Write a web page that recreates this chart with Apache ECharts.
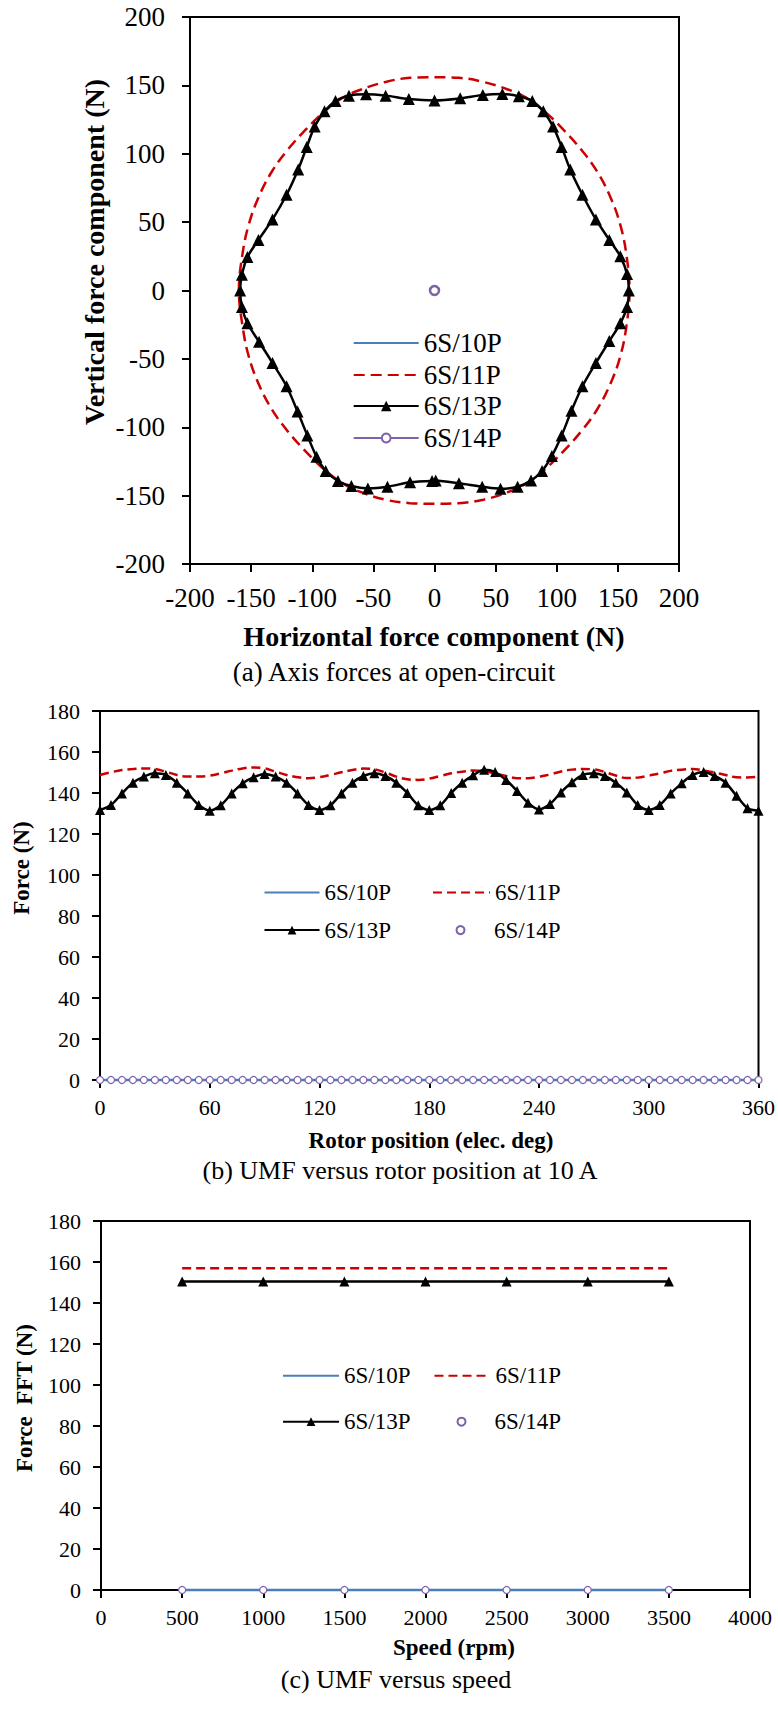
<!DOCTYPE html>
<html><head><meta charset="utf-8">
<script src="https://cdn.jsdelivr.net/npm/echarts@6/dist/echarts.min.js"></script>
<style>
html,body{margin:0;padding:0;background:#fff;}
.c{position:absolute;left:0;top:0;width:778px;height:1710px;}
</style></head><body>
<div id="ca" class="c"></div><div id="cb" class="c"></div><div id="cc" class="c"></div>
<script>
// ================= DATA =================
const seriesNames = ['6S/10P', '6S/11P', '6S/13P', '6S/14P'];

// (a) Axis forces at open-circuit: [horizontal, vertical] (N)
const aTicks = [-200, -150, -100, -50, 0, 50, 100, 150, 200];
const a10P = [[0, 0]];
const a11P = [[0,156],[20,155.5],[40,152.5],[60,147],[75,141],[90,131],[105,118],[120,103],[133,87],[144,68],[152,48],[157,26],[159.5,0],[157,-26],[152,-48],[144,-68],[133,-87],[120,-103],[105,-118],[90,-131],[75,-141],[60,-147.5],[40,-153],[20,-155.5],[0,-156],[-20,-155.5],[-40,-153],[-60,-147.5],[-75,-141],[-90,-131],[-105,-118],[-120,-103],[-133,-87],[-144,-68],[-152,-48],[-157,-26],[-160,0],[-157,27],[-152,48],[-144,68],[-133,87],[-120,103],[-105,118],[-90,131],[-75,141],[-60,147],[-40,152.5],[-20,155.5],[0,156]];
const a13P = [[1,-139],[20,-141],[39,-143.5],[54,-145],[68,-143.5],[79,-139],[88,-132],[96,-121],[104,-106],[112,-88],[121,-70],[132,-53],[143,-37],[152,-24],[157.5,-12],[159,0],[157.5,12],[152,25],[143,37],[132,52],[121,70],[111,88.5],[104,105],[97,120],[89,131],[80,138.5],[69,142],[55.5,143.7],[39.5,143],[21,140.5],[0,139],[-21,140],[-40,142.5],[-56,143.5],[-70,142.5],[-81,138.5],[-90,131],[-98,120],[-104.5,105],[-111.5,88.5],[-121,70],[-132.5,52],[-144,37],[-153,24.5],[-157.5,11.5],[-159,0],[-157.5,-12],[-153,-24],[-143.5,-37.5],[-132.5,-53],[-121,-70],[-112,-88.5],[-104,-106],[-96.5,-121.5],[-89,-132],[-79,-139.3],[-68,-143],[-54.5,-144.7],[-38.5,-143.5],[-20,-140.3],[-2,-139.3]];
const a14P = [[0, 0]];

// (b) UMF versus rotor position at 10 A
const bPosition = [0,6,12,18,24,30,36,42,48,54,60,66,72,78,84,90,96,102,108,114,120,126,132,138,144,150,156,162,168,174,180,186,192,198,204,210,216,222,228,234,240,246,252,258,264,270,276,282,288,294,300,306,312,318,324,330,336,342,348,354,360];
const bXTicks = [0, 60, 120, 180, 240, 300, 360];
const bYTicks = [0, 20, 40, 60, 80, 100, 120, 140, 160, 180];
const b10P = [0,0,0,0,0,0,0,0,0,0,0,0,0,0,0,0,0,0,0,0,0,0,0,0,0,0,0,0,0,0,0,0,0,0,0,0,0,0,0,0,0,0,0,0,0,0,0,0,0,0,0,0,0,0,0,0,0,0,0,0,0];
const b11P = [148.8,150.1,151.2,151.7,152.0,151.7,150.4,148.8,148.0,148.0,148.5,149.6,150.9,152.0,152.5,152.0,150.4,148.8,147.7,147.2,147.7,148.8,150.1,151.2,151.9,151.5,150.0,148.0,146.7,146.4,147.0,148.3,149.6,150.4,151.0,150.6,149.5,148.3,147.2,147.2,148.0,149.0,150.5,151.4,151.7,151.5,150.2,148.5,147.3,147.5,148.5,149.5,150.8,151.4,151.7,151.0,150.0,148.8,147.7,147.6,148.0];
const b13P = [131.7,134.1,139.8,145.0,148.0,149.6,148.8,145.0,139.8,134.1,131.4,134.0,139.8,144.7,147.7,149.3,148.0,145.0,139.8,134.1,131.7,134.0,139.8,145.0,148.3,149.6,148.3,145.0,140.0,134.0,131.7,134.0,140.0,145.0,148.6,151.3,150.2,146.3,141.0,135.2,132.0,134.6,140.3,145.2,148.8,149.6,148.3,145.0,140.3,134.1,131.7,134.1,139.8,144.7,148.8,150.2,148.3,145.0,138.6,132.6,131.4];
const b14P = [0,0,0,0,0,0,0,0,0,0,0,0,0,0,0,0,0,0,0,0,0,0,0,0,0,0,0,0,0,0,0,0,0,0,0,0,0,0,0,0,0,0,0,0,0,0,0,0,0,0,0,0,0,0,0,0,0,0,0,0,0];

// (c) UMF versus speed
const cSpeed = [500, 1000, 1500, 2000, 2500, 3000, 3500];
const cXTicks = [0, 500, 1000, 1500, 2000, 2500, 3000, 3500, 4000];
const c10P = [0, 0, 0, 0, 0, 0, 0];
const c11P = [157, 157, 157, 157, 157, 157, 157];
const c13P = [150.5, 150.5, 150.5, 150.5, 150.5, 150.5, 150.5];
const c14P = [0, 0, 0, 0, 0, 0, 0];

// ================= STYLE =================
const FF = "'Liberation Serif', 'Times New Roman', serif";
const BLUE = '#4A7EBB', RED = '#CC0000', BLACK = '#000', PURPLE = '#7E62A8';

function zip(xs, ys) { return xs.map((x, i) => [x, ys[i]]); }
function step(t) { return t[1] - t[0]; }

function axis(ticks, fs, margin) {
  return {
    type: 'value', min: ticks[0], max: ticks[ticks.length - 1], interval: step(ticks),
    axisLine: { show: true, onZero: false, lineStyle: { color: '#000', width: 2 } },
    axisTick: { show: true, length: 8, lineStyle: { color: '#000', width: 2 } },
    axisLabel: { fontSize: fs, fontFamily: FF, color: '#000', margin: margin,
                 formatter: v => String(v) },
    splitLine: { show: false }
  };
}
function legendItem(name, left, cy, w, h, fs, opts) {
  const lh = fs + 4;
  const d = Object.assign({ name: name }, opts || {});
  return {
    data: [d], left: left, top: cy - lh / 2, padding: 0, itemGap: 0,
    itemWidth: w, itemHeight: h, selectedMode: false,
    textStyle: { fontFamily: FF, fontSize: fs, color: '#000', lineHeight: lh }
  };
}
const NOSYM = { itemStyle: { opacity: 0 } };
const NOLINE = { lineStyle: { opacity: 0, width: 0 } };
function txt(s, x, y, fs, bold, rot) {
  return {
    type: 'text', x: x, y: y, rotation: rot || 0, silent: true,
    style: { text: s, fontFamily: FF, fontSize: fs, fontWeight: bold ? 'bold' : 'normal',
             fill: '#000', align: 'center', verticalAlign: 'middle',
             textAlign: 'center', textVerticalAlign: 'middle' }
  };
}
const grid = (l, t, w, h) => ({ left: l, top: t, width: w, height: h, show: true,
  borderColor: '#000', borderWidth: 2, backgroundColor: 'transparent', containLabel: false });

// ---------- chart (a) ----------
const ca = echarts.init(document.getElementById('ca'), null, { renderer: 'svg' });
ca.setOption({
  animation: false,
  grid: grid(190, 17, 489, 547),
  xAxis: axis(aTicks, 27, 20),
  yAxis: axis(aTicks, 27, 25),
  legend: [
    legendItem(seriesNames[0], 352.7, 343, 65, 13, 27, NOSYM),
    legendItem(seriesNames[1], 352.7, 375, 65, 13, 27, NOSYM),
    legendItem(seriesNames[2], 352.7, 406, 65, 13, 27),
    legendItem(seriesNames[3], 352.7, 438, 65, 11, 27)
  ],
  series: [
    { name: seriesNames[0], type: 'line', data: a10P, symbol: 'none', clip: false,
      lineStyle: { color: BLUE, width: 2.5 }, itemStyle: { color: BLUE } },
    { name: seriesNames[1], type: 'line', data: a11P, symbol: 'none', smooth: 0.4, clip: false,
      lineStyle: { color: RED, width: 2.5, type: [11, 6] }, itemStyle: { color: RED } },
    { name: seriesNames[2], type: 'line', data: a13P, symbol: 'triangle', symbolSize: 12, smooth: 0.3, clip: false,
      lineStyle: { color: BLACK, width: 2.5 }, itemStyle: { color: BLACK } },
    { name: seriesNames[3], type: 'line', data: a14P, symbol: 'circle', symbolSize: 9, clip: false,
      lineStyle: { color: PURPLE, width: 2.5 }, itemStyle: { color: '#fff', borderColor: PURPLE, borderWidth: 2.5 } }
  ],
  graphic: [
    txt('Vertical force component (N)', 94, 252, 28, true, Math.PI / 2),
    txt('Horizontal force component (N)', 434, 636, 28, true),
    txt('(a) Axis forces at open-circuit', 394, 672, 27, false)
  ]
});

// ---------- chart (b) ----------
const cb = echarts.init(document.getElementById('cb'), null, { renderer: 'svg' });
cb.setOption({
  animation: false,
  grid: grid(100, 711, 662, 369),
  xAxis: axis(bXTicks, 22, 16),
  yAxis: axis(bYTicks, 22, 20),
  legend: [
    legendItem(seriesNames[0], 263.5, 892.6, 55, 11, 23, NOSYM),
    legendItem(seriesNames[1], 432, 892.6, 57, 11, 23, NOSYM),
    legendItem(seriesNames[2], 263.5, 930.1, 55, 11, 23),
    legendItem(seriesNames[3], 432, 930.1, 57, 10, 23, NOLINE)
  ],
  series: [
    { name: seriesNames[0], type: 'line', data: zip(bPosition, b10P), symbol: 'none', clip: false,
      lineStyle: { color: BLUE, width: 2.5 }, itemStyle: { color: BLUE } },
    { name: seriesNames[1], type: 'line', data: zip(bPosition, b11P), symbol: 'none', smooth: 0.4, clip: false,
      lineStyle: { color: RED, width: 2.5, type: [9, 5] }, itemStyle: { color: RED } },
    { name: seriesNames[2], type: 'line', data: zip(bPosition, b13P), symbol: 'triangle', symbolSize: 10, smooth: 0.3, clip: false,
      lineStyle: { color: BLACK, width: 2.5 }, itemStyle: { color: BLACK } },
    { name: seriesNames[3], type: 'line', data: zip(bPosition, b14P), symbol: 'circle', symbolSize: 7,
      showSymbol: true, showAllSymbol: true, clip: false,
      lineStyle: { color: PURPLE, width: 0, opacity: 0 },
      itemStyle: { color: '#fff', borderColor: PURPLE, borderWidth: 1.2 } }
  ],
  graphic: [
    txt('Force (N)', 21, 868, 23, true, Math.PI / 2),
    txt('Rotor position (elec. deg)', 431, 1140, 23, true),
    txt('(b) UMF versus rotor position at 10 A', 400, 1170, 26, false)
  ]
});

// ---------- chart (c) ----------
const cc = echarts.init(document.getElementById('cc'), null, { renderer: 'svg' });
cc.setOption({
  animation: false,
  grid: grid(101, 1221, 649, 369),
  xAxis: axis(cXTicks, 22, 16),
  yAxis: axis(bYTicks, 22, 20),
  legend: [
    legendItem(seriesNames[0], 282, 1375.8, 56, 11, 23, NOSYM),
    legendItem(seriesNames[1], 433.5, 1375.8, 56, 11, 23, NOSYM),
    legendItem(seriesNames[2], 282, 1421.7, 56, 11, 23),
    legendItem(seriesNames[3], 433.5, 1421.7, 56, 10, 23, NOLINE)
  ],
  series: [
    { name: seriesNames[0], type: 'line', data: zip(cSpeed, c10P), symbol: 'none', clip: false,
      lineStyle: { color: BLUE, width: 2.5 }, itemStyle: { color: BLUE } },
    { name: seriesNames[1], type: 'line', data: zip(cSpeed, c11P), symbol: 'none', clip: false,
      lineStyle: { color: RED, width: 2.5, type: [9, 5] }, itemStyle: { color: RED } },
    { name: seriesNames[2], type: 'line', data: zip(cSpeed, c13P), symbol: 'triangle', symbolSize: 10, clip: false,
      lineStyle: { color: BLACK, width: 2.5 }, itemStyle: { color: BLACK } },
    { name: seriesNames[3], type: 'line', data: zip(cSpeed, c14P), symbol: 'circle', symbolSize: 7,
      showSymbol: true, showAllSymbol: true, clip: false,
      lineStyle: { color: PURPLE, width: 0, opacity: 0 },
      itemStyle: { color: '#fff', borderColor: PURPLE, borderWidth: 1.2 } }
  ],
  graphic: [
    txt('Force  FFT (N)', 24, 1398, 23, true, Math.PI / 2),
    txt('Speed (rpm)', 454, 1647, 23, true),
    txt('(c) UMF versus speed', 396, 1679, 26, false)
  ]
});
</script></body></html>
